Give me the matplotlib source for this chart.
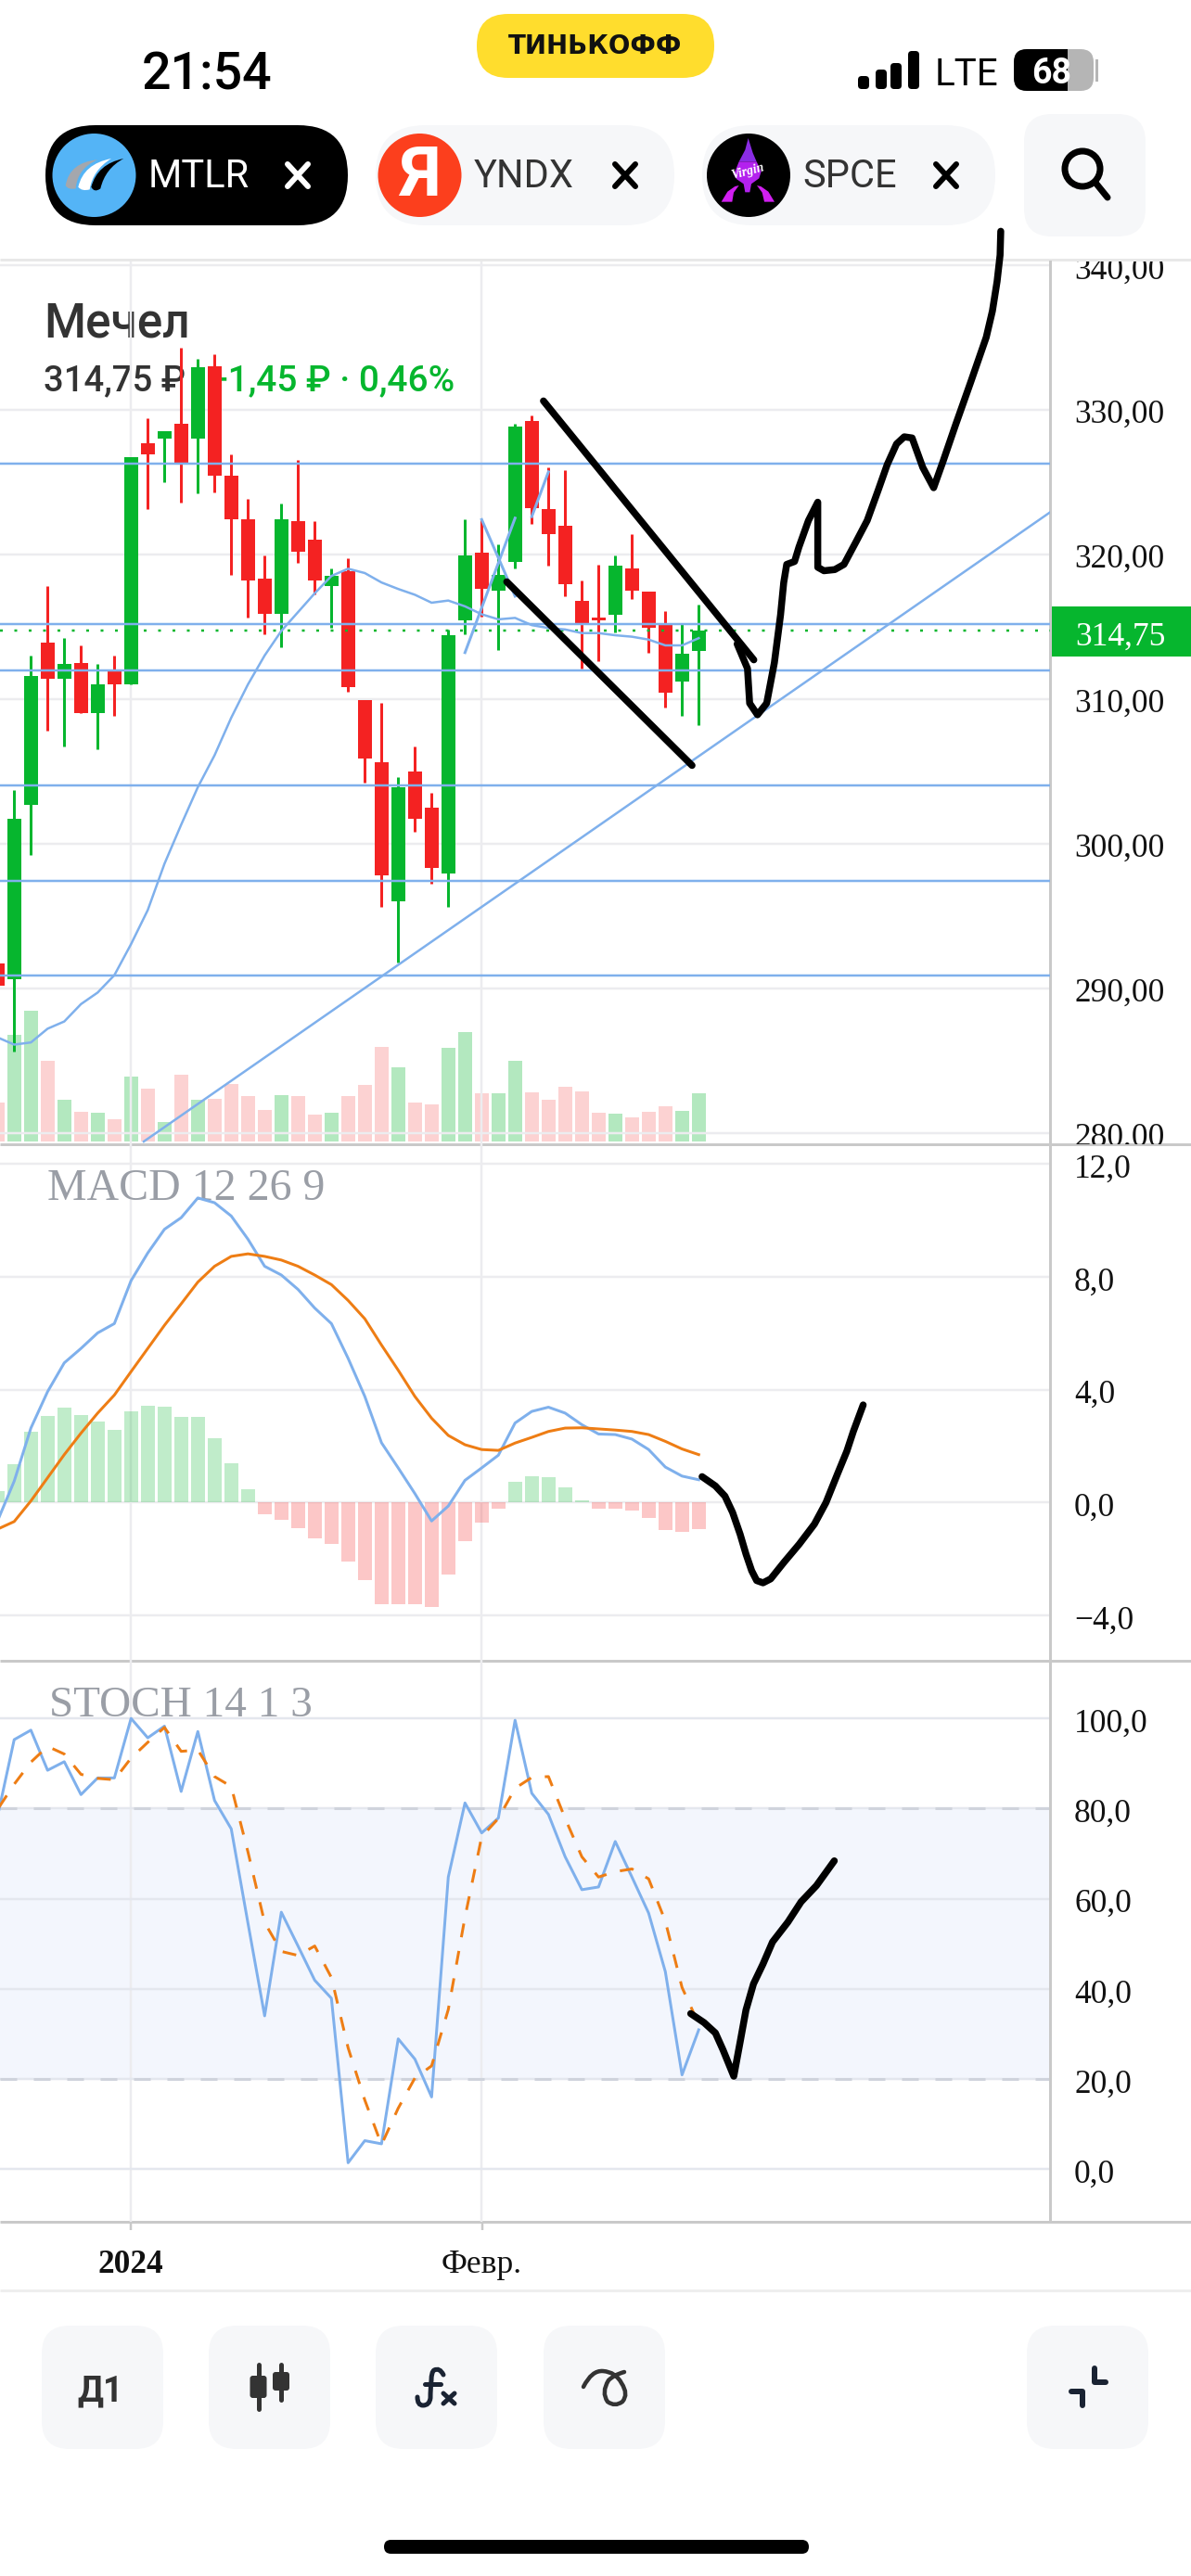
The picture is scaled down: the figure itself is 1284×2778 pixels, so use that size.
import numpy as np
import matplotlib
matplotlib.use("Agg")
import matplotlib.pyplot as plt
from matplotlib.patches import FancyBboxPatch, Circle, Rectangle, Polygon, PathPatch
from matplotlib.path import Path
from matplotlib.transforms import Bbox, ScaledTranslation

W, H = 1284, 2778
SANS = ['Roboto', 'DejaVu Sans']
SERIF = ['Liberation Serif', 'DejaVu Serif']

# candles, first one is index -1 (cut by the left edge)
opens = [291.7, 290.6, 302.7, 313.9, 311.4, 312.5, 309.0, 311.9, 311.0, 327.7, 328.0, 329.0, 328.0, 333.0,
         325.4, 322.4, 318.3, 315.9, 322.3, 321.0, 317.8, 318.8, 309.9, 305.6, 296.0, 305.0, 302.5, 297.9,
         315.4, 320.1, 317.5, 319.5, 329.2, 323.1, 322.0, 316.8, 315.6, 315.8, 319.0, 317.4, 315.1, 311.2, 313.3]
closes = [290.2, 301.7, 311.6, 311.4, 312.4, 309.0, 311.0, 311.0, 326.7, 326.9, 328.5, 326.3, 332.9, 325.4,
          322.4, 318.2, 315.9, 322.4, 320.2, 318.2, 318.5, 310.8, 305.9, 297.8, 303.9, 301.7, 298.3, 314.4,
          319.9, 317.6, 318.6, 328.8, 323.2, 321.4, 317.9, 315.1, 315.4, 319.2, 317.5, 314.9, 310.4, 313.1, 314.75]
highs = [292.5, 303.7, 313.0, 317.8, 314.2, 313.7, 312.4, 313.0, 326.7, 329.4, 328.5, 334.3, 333.5, 333.8,
         326.9, 323.8, 319.9, 323.5, 326.5, 322.3, 319.0, 319.7, 309.9, 309.7, 304.6, 306.7, 303.5, 314.8,
         322.4, 322.4, 320.7, 329.0, 329.6, 326.0, 325.8, 318.2, 319.3, 319.9, 321.4, 317.4, 316.1, 315.2, 316.5]
lows = [289.5, 285.6, 299.2, 307.8, 306.7, 309.0, 306.5, 308.8, 311.0, 323.1, 325.0, 323.6, 324.2, 324.3,
        318.6, 315.6, 314.5, 313.6, 319.4, 317.2, 314.9, 310.5, 304.2, 295.6, 291.8, 300.8, 297.2, 295.6,
        314.5, 315.7, 313.4, 319.0, 322.1, 319.2, 317.1, 312.1, 312.6, 314.6, 316.9, 313.2, 309.4, 308.8, 308.2]
volumes = [4.2, 11.5, 14.1, 8.7, 4.5, 3.2, 3.1, 2.4, 7.0, 5.7, 2.1, 7.2, 4.5, 4.6, 6.2, 4.9, 3.4, 5.0, 4.9, 2.9, 3.1,
           4.9, 6.1, 10.2, 8.0, 4.2, 4.0, 10.1, 11.8, 5.2, 5.2, 8.7, 5.3, 4.5, 5.9, 5.4, 3.1, 3.0, 2.6, 3.2, 3.8, 3.3, 5.2]
ma_line = [286.6, 286.1, 286.25, 287.2, 287.7, 288.9, 289.7, 290.9, 293.05, 295.4, 298.6, 301.3, 303.9, 306.1,
           308.7, 311.0, 313.0, 314.7, 316.0, 317.3, 318.5, 319.0, 318.7, 318.05, 317.6, 317.2, 316.65, 316.8,
           316.4, 315.85, 315.5, 315.6, 315.1, 314.9, 314.8, 314.55, 314.55, 314.4, 314.3, 314.1, 313.7, 313.7, 314.2]
levels = [326.25, 315.2, 312.0, 304.0, 297.4, 290.9]
last_price = 314.75
price_ticks = [340, 330, 320, 310, 300, 290, 280]

# hand drawn stuff on the price panel
trend_x, trend_y = [7.76, 62.04], [279.4, 322.9]
blue_x = [[27, 30], [28, 30], [31, 32]]
blue_y = [[313.2, 322.5], [322.4, 317.1], [322.6, 325.7]]
chan_top_x, chan_top_y = [31.7, 44.3], [330.6, 312.7]
chan_bot_x, chan_bot_y = [29.5, 40.6], [318.1, 305.4]
draw_price_x = [43.3, 43.92, 44.05, 44.52, 45.07, 45.53, 45.9, 46.09, 46.27, 46.74, 47.0, 47.57, 48.13, 48.13, 48.5,
                49.15, 49.7, 50.44, 51.09, 51.74, 52.29, 52.85, 53.31, 53.78, 54.42, 55.07, 55.63, 56.37, 57.29,
                58.22, 58.59, 58.87, 59.05, 59.09]
draw_price_y = [313.8, 312.1, 309.7, 308.9, 309.7, 312.5, 315.8, 318.04, 319.3, 319.5, 320.49, 322.33, 323.6, 319.1,
                318.86, 318.94, 319.3, 320.9, 322.33, 324.4, 326.2, 327.63, 328.12, 328.04, 326.0, 324.6, 326.41,
                328.9, 331.9, 335.0, 336.82, 338.86, 340.69, 342.33]

macd_line = [-0.65, 0.76, 2.64, 3.93, 4.95, 5.46, 6.01, 6.34, 7.86, 8.84, 9.68, 10.09, 10.79, 10.62, 10.15, 9.33, 8.37,
             8.06, 7.55, 6.89, 6.34, 5.11, 3.76, 2.12, 1.23, 0.32, -0.65, -0.12, 0.79, 1.23, 1.68, 2.82, 3.23, 3.38,
             3.17, 2.76, 2.43, 2.41, 2.25, 1.88, 1.26, 0.94, 0.81]
macd_signal = [-0.94, -0.67, 0.06, 0.88, 1.70, 2.46, 3.17, 3.81, 4.64, 5.46, 6.28, 7.04, 7.81, 8.37, 8.72, 8.81, 8.72,
               8.59, 8.37, 8.06, 7.72, 7.16, 6.51, 5.58, 4.69, 3.76, 2.99, 2.38, 2.05, 1.88, 1.85, 2.11, 2.31, 2.52,
               2.64, 2.65, 2.61, 2.57, 2.52, 2.41, 2.17, 1.90, 1.70]
macd_hist = [0.41, 1.35, 2.5, 3.08, 3.35, 3.11, 2.88, 2.58, 3.22, 3.44, 3.40, 3.04, 3.02, 2.27, 1.41, 0.46, -0.41, -0.61,
             -0.89, -1.26, -1.47, -2.08, -2.73, -3.59, -3.59, -3.59, -3.69, -2.54, -1.36, -0.72, -0.21, 0.75, 0.95,
             0.89, 0.53, 0.09, -0.23, -0.23, -0.27, -0.55, -0.97, -1.03, -0.94]
macd_ticks = [12, 8, 4, 0, -4]
macd_labels = ['12,0', '8,0', '4,0', '0,0', '\u22124,0']
draw_macd_x = [41.2, 42.0, 42.57, 43.03, 43.48, 43.83, 44.17, 44.47, 44.85, 45.31, 46.11, 47.02, 47.93, 48.62, 49.3,
               49.87, 50.26, 50.85]
draw_macd_y = [0.92, 0.59, 0.23, -0.35, -1.12, -1.82, -2.41, -2.76, -2.84, -2.7, -2.11, -1.47, -0.76, 0, 1.0, 1.82,
               2.52, 3.46]

stoch_k = [78.2, 95.3, 97.4, 88.5, 90.4, 83.1, 86.8, 86.8, 100, 95.7, 98.3, 83.8, 97.1, 81.8, 75.5, 54.6, 34.0, 57.0,
           49.5, 41.9, 37.9, 1.4, 6.3, 5.6, 28.9, 24.4, 16.0, 64.8, 81.25, 74.6, 77.9, 99.6, 83.4, 78.7, 69.3, 62.0,
           62.6, 72.7, 64.8, 56.8, 43.8, 20.9, 30.9]
stoch_d = [79.8, 85.4, 90.3, 93.8, 92.1, 87.6, 86.7, 86.4, 91.2, 94.7, 98.0, 92.7, 93.0, 87.1, 84.9, 70.4, 54.7, 48.3,
           47.4, 49.5, 42.5, 26.9, 15.3, 5.4, 13.5, 20.2, 22.9, 35.4, 55.9, 73.75, 77.8, 84.5, 86.9, 87.1, 77.8, 69.3,
           64.8, 66.0, 66.6, 64.4, 55.0, 40.3, 32.2]
stoch_ticks = [100, 80, 60, 40, 20, 0]
draw_stoch_x = [40.52, 41.32, 42.0, 42.46, 43.1, 43.48, 43.83, 44.28, 44.85, 45.42, 46.34, 47.13, 48.05, 49.12]
draw_stoch_y = [34.5, 32.5, 30.2, 26.4, 20.6, 28.2, 35.3, 41.1, 45.5, 50.4, 54.8, 59.3, 62.9, 68.4]

date_ticks = [7, 28]
date_labels = ['2024', 'Февр.']

GREEN = '#06b62e'
RED = '#f42222'
BLUE = '#7fb0ec'
ORANGE = '#ee7d14'
GRID = '#ececef'
AXLINE = '#c9c9c9'
PALE = '#f6f7f9'
NAVY = '#1a2333'


def px(n):
    # pixels to points at dpi 100
    return n * 0.72


fig = plt.figure(figsize=(W / 100, H / 100), dpi=100, facecolor='white')

# everything that is not the chart goes on a pixel canvas below the panels
ui = fig.add_axes([0, 0, 1, 1], zorder=0)
ui.set_xlim(0, W)
ui.set_ylim(H, 0)
ui.axis('off')


def round_box(x0, y0, x1, y1, r, color):
    ui.add_patch(FancyBboxPatch((x0 + r, y0 + r), x1 - x0 - 2 * r, y1 - y0 - 2 * r,
                                boxstyle='round,pad=%f,rounding_size=%f' % (r, r), fc=color, ec='none'))


def cross(cx, cy, color):
    for s in (1, -1):
        ui.plot([cx - 11, cx + 11], [cy - s * 12, cy + s * 12], color=color, lw=px(6), solid_capstyle='round')


def curve(start, segments, **kwargs):
    # quadratic pieces: each segment is (control, end)
    verts, codes = [start], [Path.MOVETO]
    for ctrl, end in segments:
        verts += [ctrl, end]
        codes += [Path.CURVE3, Path.CURVE3]
    ui.add_patch(PathPatch(Path(verts, codes), **kwargs))


def swoosh(pts, ox, oy, color):
    # closed shape from a 3x crop of the logo
    pts = [(ox + x / 3, oy + y / 3) for x, y in pts]
    verts = pts + [pts[0]]
    codes = [Path.MOVETO] + [Path.CURVE3] * (len(pts) - 1) + [Path.CURVE3]
    ui.add_patch(PathPatch(Path(verts, codes), fc=color, ec='none'))


# status bar
ui.text(223, 81, '21:54', family=SANS, fontsize=40, weight='medium', ha='center', va='center', color='black')
round_box(514, 15, 770, 84, 34, '#ffdd2d')
ui.text(642, 50, 'ТИНЬКОФФ', family='DejaVu Sans', fontsize=20, weight='bold', ha='center', va='center', color='#111111')
for x0, x1, top in [(925, 937, 82), (944, 956, 75), (960, 972, 68), (979, 991, 55)]:
    round_box(x0, top, x1, 96, 4, 'black')
ui.text(1042, 81, 'LTE', family=SANS, fontsize=29, ha='center', va='center', color='black')
round_box(1093, 53, 1179, 98, 14, '#b5b5b5')
round_box(1093, 53, 1165, 98, 14, 'black')
ui.add_patch(Rectangle((1140, 53), 11, 45, fc='black', ec='none'))
ui.add_patch(Rectangle((1151, 53), 15, 45, fc='#b5b5b5', ec='none'))
ui.add_patch(Rectangle((1181, 64), 3, 24, fc='#b5b5b5', ec='none'))
ui.text(1134, 79, '68', family=SANS, fontsize=27, weight='bold', ha='center', va='center', color='white')

# ticker tabs
round_box(49, 135, 375, 243, 54, 'black')
round_box(405, 135, 727, 243, 54, PALE)
round_box(757, 135, 1073, 243, 54, PALE)
round_box(1104, 123, 1235, 255, 30, PALE)
ui.add_patch(Circle((101.5, 189), 45, fc='#54b4f6', ec='none'))
swoosh([(165, 112), (75, 120), (62, 195), (70, 210), (95, 205), (100, 140)], 50, 135, '#a4a7ad')
swoosh([(210, 108), (120, 125), (103, 200), (115, 215), (140, 208), (150, 145)], 50, 135, 'white')
swoosh([(250, 108), (165, 125), (145, 200), (155, 220), (175, 205), (190, 140)], 50, 135, 'black')
ui.text(214, 191, 'MTLR', family=SANS, fontsize=30, ha='center', va='center', color='white')
cross(321, 189, 'white')
ui.add_patch(Circle((452.5, 189), 45, fc='#fc3f1d', ec='none'))
ui.text(452, 191, 'Я', family=SANS, fontsize=54, weight='bold', ha='center', va='center', color='white')
ui.text(565, 191, 'YNDX', family=SANS, fontsize=30, ha='center', va='center', color='#333333')
cross(674, 189, 'black')
ui.add_patch(Circle((807, 189), 45, fc='black', ec='none'))
rocket_top = [(155, 42), (170, 90), (182, 118), (125, 118), (145, 80)]
rocket_low = [(182, 118), (197, 150), (190, 172), (165, 190), (160, 217), (145, 217), (140, 190), (118, 175), (108, 160), (125, 118)]
arch_left = [(68, 248), (88, 215), (112, 198), (125, 195), (108, 218), (103, 248)]
arch_right = [(240, 248), (220, 215), (196, 198), (183, 195), (200, 218), (207, 248)]
for pts, color in [(rocket_top, '#8a2ce4'), (rocket_low, '#b321ee'), (arch_left, '#d11ff0'), (arch_right, '#d11ff0')]:
    ui.add_patch(Polygon([(755 + x / 3, 135 + y / 3) for x, y in pts], fc=color, ec='none'))
ui.text(806, 185, 'Virgin', family=SERIF, style='italic', weight='bold', fontsize=10, rotation=15, ha='center', va='center', color='white')
ui.text(916, 191, 'SPCE', family=SANS, fontsize=30, ha='center', va='center', color='#333333')
cross(1020, 189, 'black')
ui.add_patch(Circle((1167, 182), 19, fc='none', ec='black', lw=px(7)))
ui.plot([1181, 1194], [197, 213], color='black', lw=px(7), solid_capstyle='round')

# header of the chart
ui.text(47, 349, 'Мечел', family=SANS, fontsize=37, weight='medium', ha='left', va='center', color='#333333')
ui.text(47, 411, '314,75 ₽', family=SANS, fontsize=27.5, weight='medium', ha='left', va='center', color='#333333')
ui.text(224, 411, '+1,45 ₽ · 0,46%', family=SANS, fontsize=28, weight='medium', ha='left', va='center', color=GREEN)

# separators
for y, lw, color in [(280, 3, '#e8e8e8'), (1234, 3, AXLINE), (1791, 3, AXLINE), (2396, 3, AXLINE), (2470, 3, '#eeeeee')]:
    ui.plot([0, W], [y, y], color=color, lw=px(lw), solid_capstyle='butt')
for x in (141, 519.5):
    ui.plot([x, x], [2396, 2405], color=AXLINE, lw=px(2.5), solid_capstyle='butt')

# bottom buttons
for x0, x1 in [(45, 176), (225, 356), (405, 536), (586, 717), (1107, 1238)]:
    round_box(x0, 2508, x1, 2641, 30, PALE)
ui.text(108, 2579, 'Д1', family=SANS, fontsize=27, weight='bold', ha='center', va='center', color='#333333')
for x, y0, y1, b0, b1 in [(278.5, 2550, 2598, 2562, 2586), (303, 2550, 2588, 2558, 2578)]:
    ui.plot([x, x], [y0, y1], color='#333333', lw=px(5), solid_capstyle='round')
    round_box(x - 9, b0, x + 9, b1, 3, '#333333')
curve((478, 2561), [((474, 2553), (468, 2556)), ((465, 2558), (465, 2567)), ((464, 2576), (464, 2586)),
                    ((463, 2594), (456, 2594)), ((450, 2594), (450, 2585))],
      fc='none', ec=NAVY, lw=px(5), capstyle='round')
ui.plot([458, 475], [2571, 2571], color=NAVY, lw=px(5), solid_capstyle='round')
ui.plot([478, 490], [2581, 2592], color=NAVY, lw=px(5), solid_capstyle='round')
ui.plot([490, 478], [2581, 2592], color=NAVY, lw=px(5), solid_capstyle='round')
curve((629, 2574), [((638, 2556), (650, 2557)), ((664, 2558), (670, 2570)), ((678, 2582), (671, 2590)),
                    ((663, 2596), (655, 2590)), ((648, 2580), (656, 2567)), ((662, 2561), (673, 2558))],
      fc='none', ec='#333333', lw=px(4.5), capstyle='round')
ui.plot([1180, 1180, 1192], [2554, 2569, 2569], color=NAVY, lw=px(6), solid_capstyle='round')
ui.plot([1155, 1167, 1167], [2579, 2579, 2594], color=NAVY, lw=px(6), solid_capstyle='round')
round_box(414, 2739, 872, 2754, 7.5, 'black')

# price tag on the right
ui.add_patch(Rectangle((1131, 653.5), W - 1131, 54.5, fc=GREEN, ec='none'))
ui.text(1159, 687, '314,75', family=SERIF, fontsize=25.5, ha='left', va='center', color='white')


def add_panel(top, bottom, y0, y1):
    ax = fig.add_axes([0, 1 - bottom / H, 1132 / W, (bottom - top) / H], zorder=2)
    ax.patch.set_visible(False)
    ax.set_xlim(-0.85, 62.04)
    ax.set_ylim(y0, y1)
    for name in ('top', 'left', 'bottom'):
        ax.spines[name].set_visible(False)
    ax.spines['right'].set_color(AXLINE)
    ax.spines['right'].set_linewidth(px(3))
    ax.yaxis.tick_right()
    ax.set_xticks(date_ticks)
    ax.tick_params(axis='x', length=0, labelbottom=False)
    ax.tick_params(axis='y', length=0, pad=px(26))
    ax.grid(True, color=GRID, lw=px(2.5))
    ax.set_axisbelow(True)
    return ax


def set_right_labels(ax, ticks, labels):
    ax.set_yticks(ticks)
    ax.set_yticklabels(labels, family=SERIF, fontsize=25.5, color='#111111', va='center')
    # the labels sit a bit under their grid lines
    shift = ScaledTranslation(0, -6 / 100, fig.dpi_scale_trans)
    for label in ax.get_yticklabels():
        label.set_transform(label.get_transform() + shift)


xs = np.arange(-1, len(opens) - 1)
is_up = [c >= o for o, c in zip(opens, closes)]

# price panel
ax_vol = add_panel(282, 1234, -0.3, 94.9)
ax_vol.set_yticks([])
ax_vol.set_xticks([])
ax_vol.grid(False)
ax_vol.spines['right'].set_visible(False)
ax_vol.bar(xs, volumes, width=0.83, zorder=2,
           color=[matplotlib.colors.to_rgba(GREEN, 0.3) if up else matplotlib.colors.to_rgba(RED, 0.2) for up in is_up])

ax = add_panel(282, 1234, 279.21, 340.24)
set_right_labels(ax, price_ticks, ['%d,00' % p for p in price_ticks])
clip = Bbox([[1132, H - 1234], [W, H - 282]])
for tick_label in ax.get_yticklabels():
    tick_label.set_clip_on(True)
    tick_label.set_clip_box(clip)
for i, o, c, hi, lo, up in zip(xs, opens, closes, highs, lows, is_up):
    color = GREEN if up else RED
    ax.plot([i, i], [lo, hi], color=color, lw=px(3), solid_capstyle='butt', zorder=3)
    ax.bar(i, max(abs(c - o), 0.2), bottom=min(o, c), width=0.83, color=color, zorder=3)
ax.hlines(levels, -0.85, 62.04, color=BLUE, lw=px(2.5), zorder=4)
ax.plot([-0.85, 62.04], [last_price, last_price], color=GREEN, lw=px(2.5), zorder=4,
        linestyle=(0, (1.2, 5)))
ax.plot(xs, ma_line, color=BLUE, lw=px(2.5), zorder=4)
ax.plot(trend_x, trend_y, color=BLUE, lw=px(2.5), zorder=4)
for bx, by in zip(blue_x, blue_y):
    ax.plot(bx, by, color=BLUE, lw=px(3), zorder=4)
for lx, ly in [(chan_top_x, chan_top_y), (chan_bot_x, chan_bot_y), (draw_price_x, draw_price_y)]:
    ax.plot(lx, ly, color='black', lw=px(7.5), solid_capstyle='round', solid_joinstyle='round', zorder=6, clip_on=False)

# macd
ax_m = add_panel(1234, 1791, -5.60, 12.69)
set_right_labels(ax_m, macd_ticks, macd_labels)
ax_m.bar(xs, macd_hist, width=0.83, color=[GREEN if v >= 0 else RED for v in macd_hist], alpha=0.25, zorder=2)
ax_m.plot(xs, macd_line, color=BLUE, lw=px(3), zorder=3)
ax_m.plot(xs, macd_signal, color=ORANGE, lw=px(3), zorder=3)
ax_m.plot(draw_macd_x, draw_macd_y, color='black', lw=px(7.5), solid_capstyle='round', solid_joinstyle='round', zorder=5)
ax_m.text(51 / 1132, 1 - (1282 - 1234) / (1791 - 1234), 'MACD 12 26 9', transform=ax_m.transAxes, family=SERIF,
          fontsize=34.5, color='#9a9ea6', ha='left', va='center', zorder=2)

# stochastic
ax_s = add_panel(1791, 2396, -11.7, 112.8)
set_right_labels(ax_s, stoch_ticks, ['%d,0' % v for v in stoch_ticks])
ax_s.axhspan(20, 80, color='#f3f6fd', lw=0, zorder=0.5)
ax_s.grid(True, axis='y', color='#e4e7ee', lw=px(2.5))
ax_s.hlines([20, 80], -0.85, 62.04, color='#cfd3dc', lw=px(3), linestyle=(0, (6, 6)), zorder=1.5)
ax_s.plot(xs, stoch_k, color=BLUE, lw=px(3), zorder=3)
ax_s.plot(xs, stoch_d, color=ORANGE, lw=px(3), linestyle=(0, (5, 5)), zorder=3)
ax_s.plot(draw_stoch_x, draw_stoch_y, color='black', lw=px(7.5), solid_capstyle='round', solid_joinstyle='round', zorder=5)
ax_s.text(53 / 1132, 1 - (1840 - 1791) / (2396 - 1791), 'STOCH 14 1 3', transform=ax_s.transAxes, family=SERIF,
          fontsize=34, color='#9a9ea6', ha='left', va='center', zorder=2)
ax_s.set_xticks(date_ticks)
ax_s.set_xticklabels(date_labels, family=SERIF, fontsize=25.5, color='#111111')
ax_s.tick_params(axis='x', labelbottom=True, pad=px(30))
ax_s.get_xticklabels()[0].set_weight('bold')

fig.savefig('out.png', dpi=100)
